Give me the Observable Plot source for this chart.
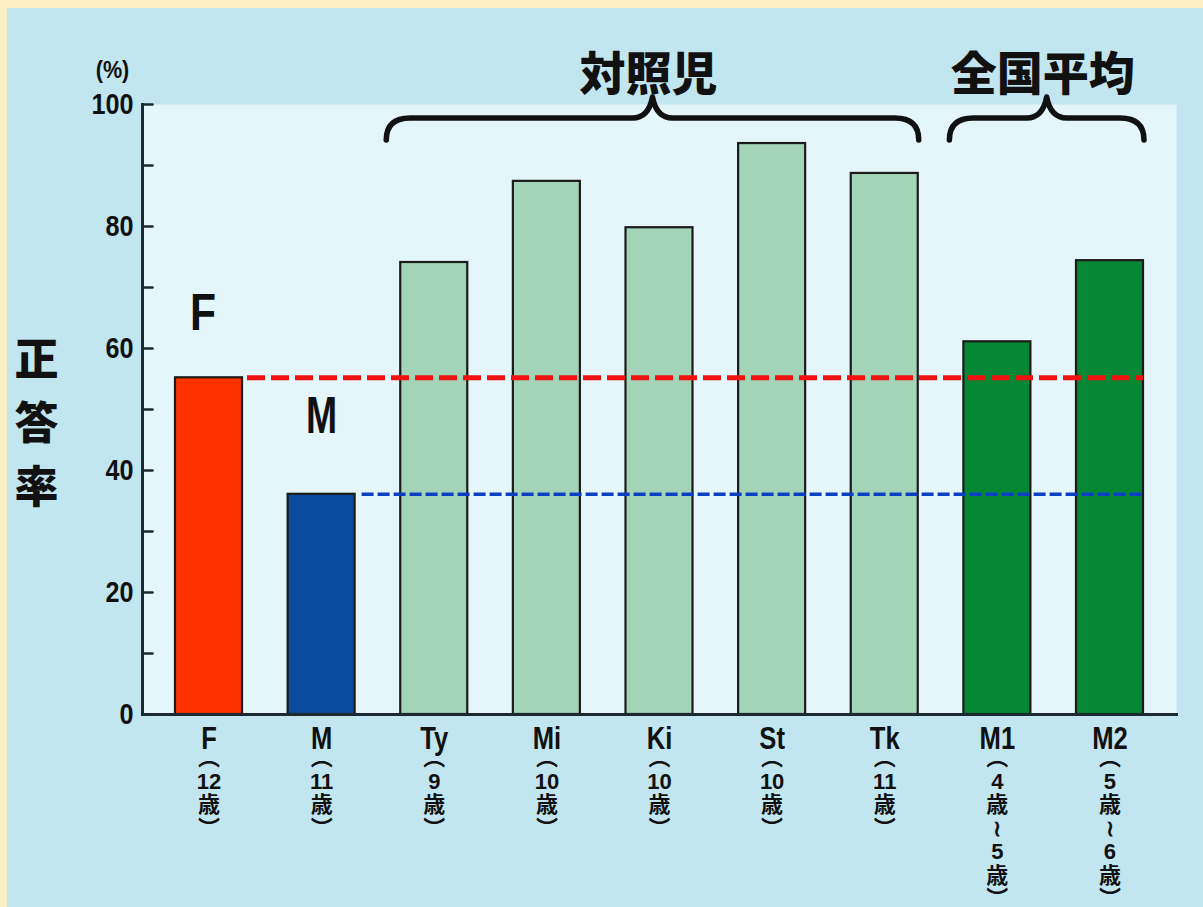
<!DOCTYPE html>
<html><head><meta charset="utf-8">
<script src="https://cdn.jsdelivr.net/npm/d3@7"></script>
<script src="https://cdn.jsdelivr.net/npm/@observablehq/plot@0.6"></script>
<style>
body{margin:0;background:#faf0c2;width:1203px;height:907px;overflow:hidden;position:relative}
#bg{position:absolute;left:7px;top:8px;right:0;bottom:0;background:#c1e6f0}
#chart{position:absolute;left:0;top:0}
</style></head><body><div id="bg"></div><div id="chart"></div>
<script>
// ---- data ----
const names = ["F", "M", "Ty", "Mi", "Ki", "St", "Tk", "M1", "M2"];
const values = [55.2, 36.1, 74.1, 87.4, 79.8, 93.6, 88.7, 61.1, 74.4];
const ageFrom = ["12", "11", "9", "10", "10", "10", "11", "4", "5"];
const ageTo = [null, null, null, null, null, null, null, "5", "6"];
const groups = ["F", "M", "control", "control", "control", "control", "control", "national", "national"];
const groupColors = {F: "#ff3300", M: "#0a4d9e", control: "#a4d4b7", national: "#068736"};
const yTicks = [0, 20, 40, 60, 80, 100];
const yMinorTicks = [0, 10, 20, 30, 40, 50, 60, 70, 80, 90, 100];
const braceGroups = [
  {label: "対照児", from: "Ty", to: "Tk"},
  {label: "全国平均", from: "M1", to: "M2"}
];
const yTitle = "正答率";
const unitLabel = "(%)";

const data = names.map((n, i) => ({
  name: n, value: values[i], group: groups[i], color: groupColors[groups[i]],
  age: ageTo[i] ? ["︵", ageFrom[i], "歳", "≀", ageTo[i], "歳", "︶"].join("\n")
                 : ["︵", ageFrom[i], "歳", "︶"].join("\n")
}));

const sans = "'Liberation Sans', Arial, 'Noto Sans CJK JP', sans-serif";
const cjk = "'Noto Sans CJK JP', sans-serif";
const axisColor = "#1b2a31";

// horizontally condense text glyphs (narrow gothic look)
const narrowText = (sx) => (index, scales, values, dims, context, next) => {
  const g = next(index, scales, values, dims, context);
  if (g) d3.select(g).selectAll("text").each(function () {
    const t = this.getAttribute("transform") || "";
    this.setAttribute("transform", `${t} scale(${sx},1)`);
  });
  return g;
};

function braces(index, scales) {
  const x = scales.x, y = scales.y;
  const bw = x.bandwidth();
  const g = d3.create("svg:g");
  const top = y(100);
  for (const b of braceGroups) {
    const x0 = x(b.from) - 14, x1 = x(b.to) + bw + 1;
    const m = (x0 + x1) / 2;
    const yH = top + 14, yE = top + 36, yP = top - 7;
    const r = 24, rc = 20;
    g.append("path")
      .attr("d", `M${x0},${yE} Q${x0},${yH} ${x0 + r},${yH} L${m - rc},${yH} Q${m - 4},${yH} ${m},${yP} Q${m + 4},${yH} ${m + rc},${yH} L${x1 - r},${yH} Q${x1},${yH} ${x1},${yE}`)
      .attr("fill", "none").attr("stroke", "#111").attr("stroke-width", 5.5)
      .attr("stroke-linecap", "round").attr("stroke-linejoin", "round");
    g.append("text")
      .attr("x", m - 4).attr("y", top - 14)
      .attr("text-anchor", "middle")
      .attr("font-family", cjk).attr("font-weight", 900).attr("font-size", 46)
      .attr("fill", "#111")
      .text(b.label);
  }
  return g.node();
}

const tickShape = {draw(ctx, l) { ctx.moveTo(0, 0); ctx.lineTo(0, -l); }};

const chart = Plot.plot({
  width: 1203,
  height: 907,
  marginLeft: 142,
  marginRight: 27,
  marginTop: 104,
  marginBottom: 193,
  style: {background: "transparent", overflow: "visible"},
  x: {type: "band", domain: names, paddingInner: 0.405, paddingOuter: 0.293, round: false, axis: null},
  y: {domain: [0, 100], axis: null, label: null},
  color: {type: "identity"},
  marks: [
    Plot.frame({fill: "#e5f6fa"}),
    Plot.barY(data, {x: "name", y: "value", fill: "color", stroke: "#1b1b1b", strokeWidth: 2.2}),
    Plot.ruleY(data.slice(0, 1), {y: "value", x1: "name", x2: () => names[names.length - 1],
      insetLeft: 72, stroke: "#f21010", strokeWidth: 5, strokeDasharray: "18,6"}),
    Plot.ruleY(data.slice(1, 2), {y: "value", x1: "name", x2: () => names[names.length - 1],
      insetLeft: 74, stroke: "#0d3fc4", strokeWidth: 3.5, strokeDasharray: "12,4"}),
    Plot.frame({anchor: "left", stroke: axisColor, strokeWidth: 3}),
    Plot.frame({anchor: "bottom", stroke: axisColor, strokeWidth: 3}),
    Plot.vector(yMinorTicks, {y: d => d, frameAnchor: "left", length: 10, rotate: 90, anchor: "start",
      shape: tickShape, stroke: axisColor, strokeWidth: 2.5}),
    Plot.text(yTicks, {y: d => d, text: d => String(d), frameAnchor: "left", textAnchor: "end", dx: -9,
      fontSize: 30, fontWeight: "bold", fontFamily: sans, fill: "#111", render: narrowText(0.84)}),
    Plot.text([unitLabel], {frameAnchor: "top-left", textAnchor: "middle", dx: -30, dy: -44, fontSize: 24,
      fontWeight: "bold", fontFamily: sans, fill: "#111", render: narrowText(0.9)}),
    Plot.text([yTitle.split("").join("\n")], {frameAnchor: "left", textAnchor: "middle", dx: -106, dy: 9,
      fontSize: 44, lineHeight: 1.45, fontWeight: 900, fontFamily: cjk, fill: "#111"}),
    Plot.text(data.slice(0, 1), {x: "name", y: "value", text: "name", dy: -64, dx: -6, fontSize: 52,
      fontWeight: "bold", fontFamily: sans, fill: "#111", render: narrowText(0.82)}),
    Plot.text(data.slice(1, 2), {x: "name", y: "value", text: "name", dy: -78, fontSize: 52,
      fontWeight: "bold", fontFamily: sans, fill: "#111", render: narrowText(0.72)}),
    Plot.text(data, {x: "name", text: "name", frameAnchor: "bottom", dy: 34, fontSize: 32,
      fontWeight: "bold", fontFamily: sans, fill: "#111", render: narrowText(0.8)}),
    Plot.text(data, {x: "name", text: "age", frameAnchor: "bottom", lineAnchor: "top", dy: 34,
      fontSize: 22, lineHeight: 1.07, fontWeight: "bold", fontFamily: sans, fill: "#111"}),
    braces
  ]
});
document.getElementById("chart").appendChild(chart);
</script>
</body></html>
